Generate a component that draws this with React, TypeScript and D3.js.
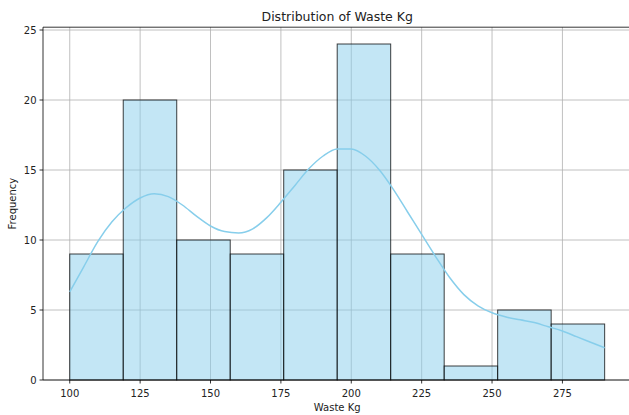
import React from "react";
import * as d3 from "d3";

// Histogram bins (kg) and counts
const binEdges = [100, 119, 138, 157, 176, 195, 214, 233, 252, 271, 290];
const binCounts = [9, 20, 10, 9, 15, 24, 9, 1, 5, 4];

// Kernel density estimate scaled to counts
const kdeX = [100, 105, 110, 115, 120, 125, 130, 135, 140, 145, 150, 155, 160, 165, 170, 175, 180, 185, 190, 195, 200, 205, 210, 215, 220, 225, 230, 235, 240, 245, 250, 255, 260, 265, 270, 275, 280, 285, 290];
const kdeY = [6.3, 8.1, 9.9, 11.3, 12.3, 13.0, 13.3, 13.1, 12.5, 11.7, 11.0, 10.6, 10.5, 10.8, 11.6, 12.7, 13.9, 15.1, 16.0, 16.5, 16.5, 16.0, 15.0, 13.6, 12.0, 10.4, 8.8, 7.3, 6.1, 5.3, 4.8, 4.5, 4.3, 4.1, 3.8, 3.5, 3.1, 2.7, 2.3];

const xTicks = [100, 125, 150, 175, 200, 225, 250, 275];
const yTicks = [0, 5, 10, 15, 20, 25];

const W = 629;
const H = 415;
const left = 43;
const right = 631.4;
const top = 27.2;
const bottom = 380;

export default function App() {
  const x = d3.scaleLinear().domain([90.5, 299.5]).range([left, right]);
  const y = d3.scaleLinear().domain([0, 25.2]).range([bottom, top]);
  const line = d3
    .line<number>()
    .x((_, i) => x(kdeX[i]))
    .y((d) => y(d))
    .curve(d3.curveMonotoneX);
  const font = "DejaVu Sans, sans-serif";
  const textColor = "#222";

  return (
    <svg
      width={W}
      height={H}
      style={{ position: "absolute", left: 0, top: 0, background: "#fff" }}
      fontFamily={font}
    >
      {/* grid */}
      <g stroke="#b0b0b0" strokeWidth={0.8}>
        {xTicks.map((t) => (
          <line key={"gx" + t} x1={x(t)} x2={x(t)} y1={top} y2={bottom} />
        ))}
        {yTicks.map((t) => (
          <line key={"gy" + t} x1={left} x2={right} y1={y(t)} y2={y(t)} />
        ))}
      </g>
      {/* bars */}
      <g>
        {binCounts.map((c, i) => (
          <rect
            key={i}
            x={x(binEdges[i])}
            y={y(c)}
            width={x(binEdges[i + 1]) - x(binEdges[i])}
            height={y(0) - y(c)}
            fill="#87ceeb"
            fillOpacity={0.5}
            stroke="#000"
            strokeOpacity={0.75}
            strokeWidth={1}
          />
        ))}
      </g>
      {/* KDE */}
      <path d={line(kdeY) || ""} fill="none" stroke="#87ceeb" strokeWidth={1.5} />
      {/* spines */}
      <g stroke="#000" strokeWidth={0.8}>
        <line x1={left} x2={left} y1={top} y2={bottom} />
        <line x1={left} x2={right} y1={bottom} y2={bottom} />
        <line x1={left} x2={right} y1={top} y2={top} />
      </g>
      {/* ticks */}
      <g fontSize={10} fill={textColor}>
        {xTicks.map((t) => (
          <g key={"xt" + t}>
            <line x1={x(t)} x2={x(t)} y1={bottom} y2={bottom + 3.5} stroke="#000" strokeWidth={0.8} />
            <text x={x(t)} y={bottom + 17} textAnchor="middle">
              {t}
            </text>
          </g>
        ))}
        {yTicks.map((t) => (
          <g key={"yt" + t}>
            <line x1={left - 3.5} x2={left} y1={y(t)} y2={y(t)} stroke="#000" strokeWidth={0.8} />
            <text x={left - 6.5} y={y(t)} dy="0.35em" textAnchor="end">
              {t}
            </text>
          </g>
        ))}
      </g>
      <text x={(left + right) / 2} y={411} textAnchor="middle" fontSize={10} fill={textColor}>
        Waste Kg
      </text>
      <text
        transform={`translate(16,${(top + bottom) / 2}) rotate(-90)`}
        textAnchor="middle"
        fontSize={10}
        fill={textColor}
      >
        Frequency
      </text>
      <text x={(left + right) / 2} y={20.5} textAnchor="middle" fontSize={12.5} fill={textColor}>
        Distribution of Waste Kg
      </text>
    </svg>
  );
}
